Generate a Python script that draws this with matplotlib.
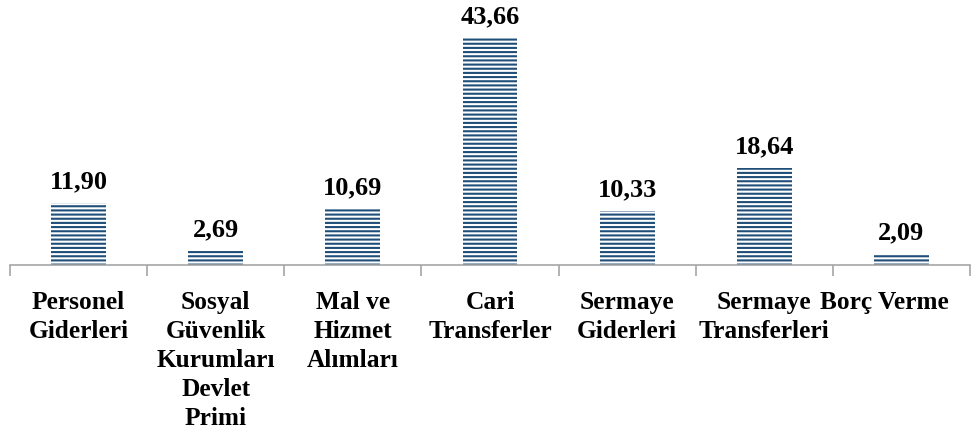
import matplotlib
matplotlib.use("Agg")
import matplotlib.pyplot as plt
import matplotlib.transforms as mtransforms
import numpy as np

categories = ["Personel\nGiderleri", "Sosyal\nGüvenlik\nKurumları\nDevlet\nPrimi",
              "Mal ve\nHizmet\nAlımları", "Cari\nTransferler", "Sermaye\nGiderleri",
              "Sermaye\nTransferleri", "Borç Verme"]
values = [11.90, 2.69, 10.69, 43.66, 10.33, 18.64, 2.09]
value_labels = ["11,90", "2,69", "10,69", "43,66", "10,33", "18,64", "2,09"]

plt.rcParams['font.family'] = ['Liberation Serif', 'DejaVu Serif']
plt.rcParams['hatch.linewidth'] = 1.5

fig = plt.figure(figsize=(9.78, 4.36), dpi=100)
ax = fig.add_axes([10/978, (436-265)/436, 960/978, 260/436])

x = np.arange(len(values))
color = '#1F4E79'
ax.bar(x, values, width=0.4, facecolor='white', edgecolor=color, linewidth=0, hatch='----')

for xi, v, lab in zip(x, values, value_labels):
    ax.annotate(lab, (xi, v), xytext=(0, 7), textcoords='offset points',
                ha='center', va='bottom', fontsize=19, fontweight='bold')

ax.set_xlim(-0.5, len(values) - 0.5)
ax.set_ylim(0, 50)
ax.set_xticks(x)
ax.set_xticklabels(categories, fontsize=18.3, fontweight='bold', linespacing=1.33)
ax.set_xticks(np.arange(len(values) + 1) - 0.5, minor=True)
ax.tick_params(axis='x', which='major', length=0, pad=19)
ax.tick_params(axis='x', which='minor', length=8, color='#a6a6a6', width=1.2)
ax.set_yticks([])
for s in ['top', 'right', 'left']:
    ax.spines[s].set_visible(False)
ax.spines['bottom'].set_color('#a6a6a6')
ax.spines['bottom'].set_linewidth(1.2)

last = ax.get_xticklabels()[-1]
last.set_transform(last.get_transform() + mtransforms.ScaledTranslation(-0.17, 0, fig.dpi_scale_trans))

fig.savefig('out.png', dpi=100)
